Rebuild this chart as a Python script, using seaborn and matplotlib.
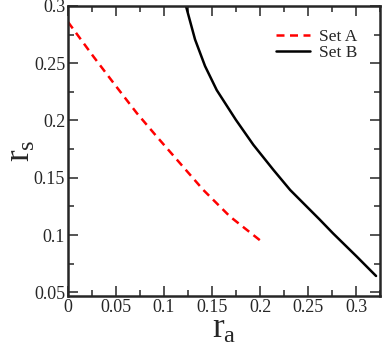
import numpy as np
import pandas as pd
import matplotlib
matplotlib.use("Agg")
import matplotlib.pyplot as plt
from matplotlib.ticker import MultipleLocator
import seaborn as sns

# values
set_a_ra = [0.0, 0.0264, 0.049, 0.0716, 0.0924, 0.1409, 0.1688, 0.2018]
set_a_rs = [0.286, 0.2559, 0.231, 0.2065, 0.186, 0.1394, 0.1161, 0.0942]

set_b_ra = [0.1228, 0.1323, 0.1427, 0.1549, 0.1748, 0.1930, 0.2139,
            0.2313, 0.2469, 0.2618, 0.276, 0.301, 0.3208]
set_b_rs = [0.300, 0.2707, 0.2475, 0.2265, 0.2006, 0.1788, 0.1569,
            0.1394, 0.1263, 0.1138, 0.1015, 0.081, 0.0643]

x_ticks = [0, 0.05, 0.1, 0.15, 0.2, 0.25, 0.3]
x_labels = ["0", "0.05", "0.1", "0.15", "0.2", "0.25", "0.3"]
y_ticks = [0.05, 0.1, 0.15, 0.2, 0.25, 0.3]
y_labels = ["0.05", "0.1", "0.15", "0.2", "0.25", "0.3"]

df = pd.concat([
    pd.DataFrame({"ra": set_a_ra, "rs": set_a_rs, "set": "Set A"}),
    pd.DataFrame({"ra": set_b_ra, "rs": set_b_rs, "set": "Set B"}),
])

sns.set_style("ticks")
plt.rcParams["font.family"] = ["Liberation Serif", "DejaVu Serif"]
plt.rcParams["mathtext.fontset"] = "custom"
plt.rcParams["mathtext.rm"] = "Liberation Serif"
plt.rcParams["mathtext.it"] = "Liberation Serif"

fig = plt.figure(figsize=(3.82, 3.48), dpi=100)
ax = fig.add_axes([0.178, 0.149, 0.817, 0.834])

sns.lineplot(data=df, x="ra", y="rs", hue="set", style="set",
             palette={"Set A": "#ff0000", "Set B": "#000000"},
             dashes={"Set A": (3.2, 2.2), "Set B": ""},
             sort=False, estimator=None, linewidth=1.8, ax=ax)

ax.set_xlim(0, 0.325)
ax.set_ylim(0.0467, 0.3)
ax.set_xticks(x_ticks)
ax.set_xticklabels(x_labels)
ax.set_yticks(y_ticks)
ax.set_yticklabels(y_labels)
ax.xaxis.set_minor_locator(MultipleLocator(0.025))
ax.yaxis.set_minor_locator(MultipleLocator(0.025))
ax.tick_params(which="both", direction="in", top=True, right=True,
               labelsize=13, width=1.1, pad=2)
ax.tick_params(which="major", length=7)
ax.tick_params(which="minor", length=4)
for s in ax.spines.values():
    s.set_linewidth(1.8)

ax.set_xlabel(r"$\mathregular{r_a}$", fontsize=25, labelpad=-2)
ax.set_ylabel(r"$\mathregular{r_s}$", fontsize=25, labelpad=-3)

ax.legend(title=None, frameon=False, loc="upper right", fontsize=12.5,
          handlelength=2.0, handletextpad=0.5, labelspacing=0.0,
          borderaxespad=0.9)

fig.savefig("out.png", dpi=100)
